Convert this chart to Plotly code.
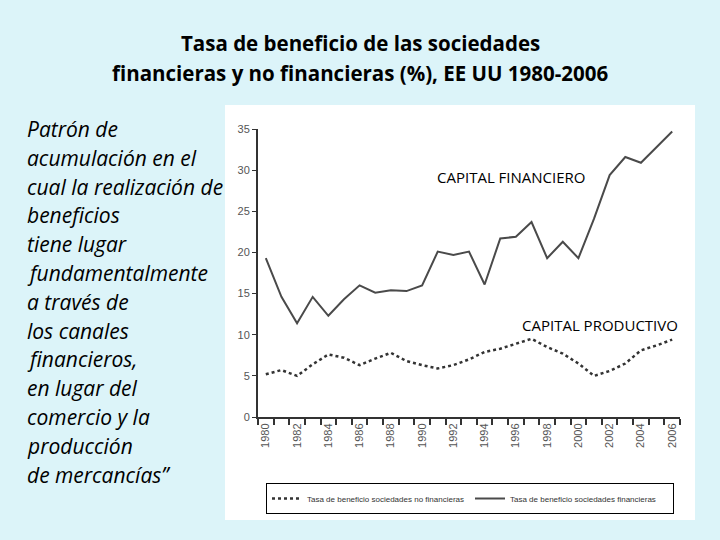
import plotly.graph_objects as go

W, H = 720, 540

years = list(range(1980, 2007))
financieras = [19.3, 14.6, 11.4, 14.6, 12.3, 14.3, 16.0, 15.1, 15.4, 15.3, 16.0,
               20.1, 19.7, 20.1, 16.1, 21.7, 21.9, 23.7, 19.3, 21.3, 19.3,
               24.1, 29.4, 31.6, 30.9, 32.8, 34.7]
no_financieras = [5.2, 5.7, 5.0, 6.4, 7.6, 7.2, 6.3, 7.1, 7.8, 6.8, 6.3,
                  5.9, 6.3, 7.0, 7.9, 8.3, 8.9, 9.5, 8.5, 7.7, 6.5,
                  5.0, 5.6, 6.5, 8.1, 8.7, 9.4]
year_labels = [str(y) for y in years[::2]]

title_lines = ["Tasa de beneficio de las sociedades",
               "financieras y no financieras (%), EE UU 1980-2006"]
side_lines = ["Patrón de", "acumulación en el", "cual la realización de",
              "beneficios", "tiene lugar", "fundamentalmente", "a través de",
              "los canales", "financieros,", "en lugar del", "comercio y la",
              "producción", "de mercancías\u201d"]
legend_names = ["Tasa de beneficio sociedades no financieras",
                "Tasa de beneficio sociedades financieras"]

def px(x):
    return x / W

def py(y):
    return 1 - y / H

fig = go.Figure()
fig.add_trace(go.Scatter(x=years, y=no_financieras, mode="lines",
                         name=legend_names[0],
                         line=dict(color="#333333", width=2.5, dash="dot")))
fig.add_trace(go.Scatter(x=years, y=financieras, mode="lines",
                         name=legend_names[1],
                         line=dict(color="#4a4a4a", width=2)))

shapes = [dict(type="rect", xref="paper", yref="paper",
               x0=px(225), x1=px(695), y0=py(520), y1=py(105),
               fillcolor="white", line=dict(width=0), layer="below")]

annotations = []
for i, t in enumerate(title_lines):
    annotations.append(dict(text="<b>" + t + "</b>", x=0.5, y=py(43 + 30 * i),
                            xref="paper", yref="paper", showarrow=False,
                            xanchor="center", yanchor="middle",
                            font=dict(family="Open Sans", size=20.5, color="black")))
for i, t in enumerate(side_lines):
    annotations.append(dict(text="<i>" + t + "</i>", x=px(25), y=py(129 + 28.8 * i),
                            xref="paper", yref="paper", showarrow=False,
                            xanchor="left", yanchor="middle",
                            font=dict(family="Open Sans", size=21, color="black")))
annotations.append(dict(text="CAPITAL FINANCIERO", x=px(435), y=py(177),
                        xref="paper", yref="paper", showarrow=False,
                        xanchor="left", yanchor="middle",
                        font=dict(family="Open Sans", size=15, color="black")))
annotations.append(dict(text="CAPITAL PRODUCTIVO", x=px(520), y=py(325),
                        xref="paper", yref="paper", showarrow=False,
                        xanchor="left", yanchor="middle",
                        font=dict(family="Open Sans", size=15, color="black")))

fig.update_layout(
    width=W, height=H,
    margin=dict(l=0, r=0, t=0, b=0, autoexpand=False),
    paper_bgcolor="#dcf4f9",
    plot_bgcolor="white",
    shapes=shapes,
    annotations=annotations,
    showlegend=True,
    legend=dict(orientation="h", x=px(266), y=py(483), xanchor="left", yanchor="top",
                bordercolor="black", borderwidth=1, bgcolor="white",
                font=dict(family="Liberation Sans", size=8, color="#333"),
                entrywidth=158, itemwidth=30, tracegroupgap=0),
    xaxis=dict(domain=[px(258), px(680)], range=[1979.5, 2006.5],
               tickvals=years[::2], ticktext=year_labels, tickangle=-90,
               ticks="", showgrid=False, zeroline=False,
               showline=True, linecolor="#333", linewidth=2,
               tickfont=dict(family="Liberation Sans", size=11, color="#555"),
               minor=dict(tickvals=[y + 0.5 for y in range(1979, 2007)],
                          ticks="outside", ticklen=6, tickcolor="#333", tickwidth=1.5)),
    yaxis=dict(domain=[py(417), py(129)], range=[0, 35],
               tickvals=list(range(0, 36, 5)), ticks="outside", ticklen=4,
               tickcolor="#333", showgrid=False, zeroline=False,
               showline=True, linecolor="#333", linewidth=2,
               tickfont=dict(family="Liberation Sans", size=11, color="#555")),
)

fig.write_html("out.html", config={"displayModeBar": False},
               post_script="document.body.style.margin='0';")
